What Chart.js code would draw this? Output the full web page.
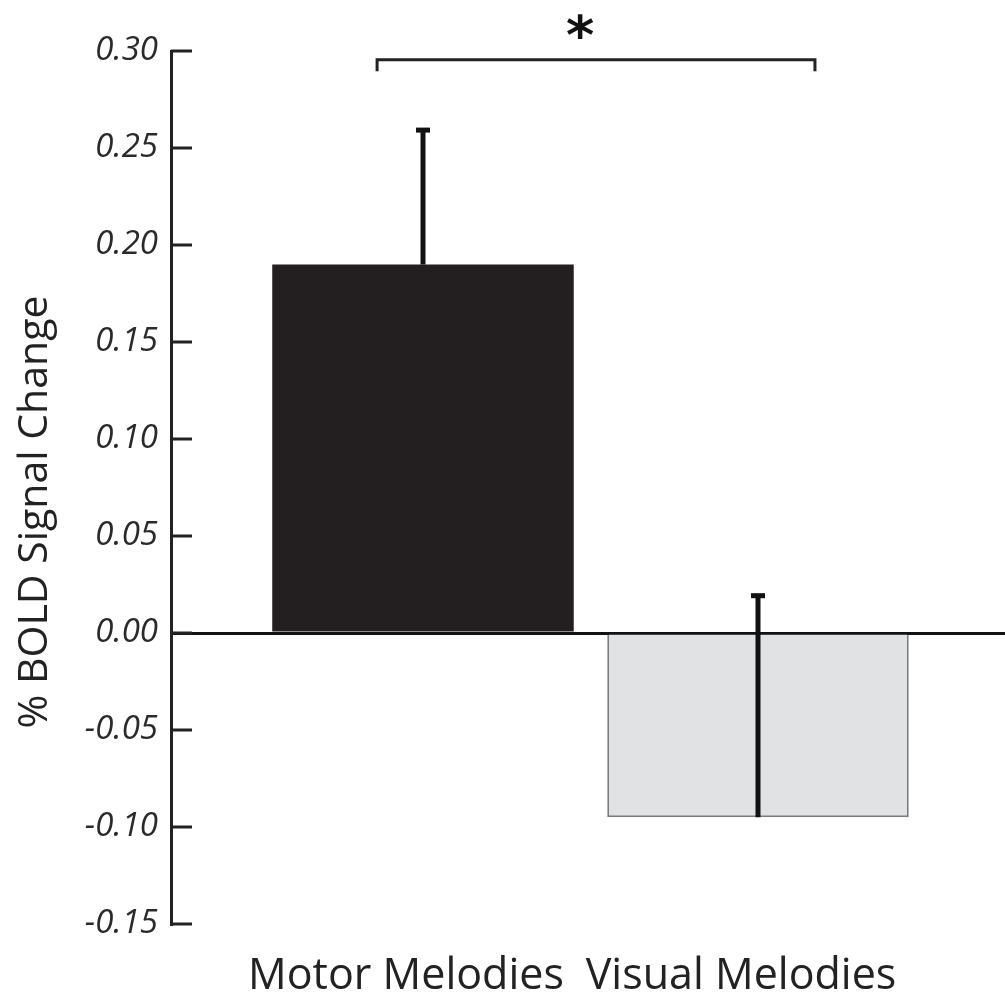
<!DOCTYPE html>
<html lang="en">
<head>
  <meta charset="UTF-8">
  <title>% BOLD Signal Change</title>
  <script src="https://cdn.jsdelivr.net/npm/chart.js"></script>
  <style>
    body {
      margin: 0;
      padding: 0;
      background-color: #ffffff;
    }
    #wrap {
      width: 1005px;
      height: 997px;
      position: relative;
    }
  </style>
</head>
<body>
  <div id="wrap">
    <canvas id="bold-chart"></canvas>
  </div>

  <script>
    // data
    const categories = ["Motor Melodies", "Visual Melodies"];
    const signalChange = [0.19, -0.095];
    const errorUp = [0.07, 0.115];
    const yTicks = [0.30, 0.25, 0.20, 0.15, 0.10, 0.05, 0.00, -0.05, -0.10, -0.15];
    const yTitle = "% BOLD Signal Change";
    const sigMark = "*";

    const INK = "#222222";

    // inward tick marks, error bars, significance bracket and y title
    const overlay = {
      id: "overlay",
      afterDatasetsDraw(chart) {
        const ctx = chart.ctx;
        const x = chart.scales.x;
        const y = chart.scales.y;
        const area = chart.chartArea;
        ctx.save();

        // tick marks pointing into the plot
        ctx.strokeStyle = INK;
        ctx.lineWidth = 3;
        yTicks.forEach(v => {
          const py = y.getPixelForValue(v);
          ctx.beginPath();
          ctx.moveTo(area.left, py);
          ctx.lineTo(area.left + 21, py);
          ctx.stroke();
        });

        // error bars (one side, drawn upward)
        const meta = chart.getDatasetMeta(0);
        meta.data.forEach((bar, i) => {
          const px = bar.x;
          const y0 = y.getPixelForValue(signalChange[i]);
          const y1 = y.getPixelForValue(signalChange[i] + errorUp[i]);
          ctx.strokeStyle = "#111";
          ctx.lineWidth = 5;
          ctx.beginPath();
          ctx.moveTo(px, y0);
          ctx.lineTo(px, y1);
          ctx.stroke();
          ctx.fillStyle = "#111";
          ctx.fillRect(px - 7, y1 - 1, 14, 5);
        });

        // significance bracket
        const bx0 = x.getPixelForValue(0.863);
        const bx1 = x.getPixelForValue(2.17);
        const by = y.getPixelForValue(0.2955);
        const byTip = y.getPixelForValue(0.2895);
        ctx.strokeStyle = INK;
        ctx.lineWidth = 3;
        ctx.beginPath();
        ctx.moveTo(bx0, byTip);
        ctx.lineTo(bx0, by);
        ctx.lineTo(bx1, by);
        ctx.lineTo(bx1, byTip);
        ctx.stroke();

        ctx.fillStyle = "#111";
        ctx.font = "bold 54px 'DejaVu Sans'";
        ctx.textAlign = "center";
        ctx.textBaseline = "alphabetic";
        ctx.fillText(sigMark, x.getPixelForValue(1.469), y.getPixelForValue(0.2985));

        // y axis title
        ctx.translate(35, 512);
        ctx.rotate(-Math.PI / 2);
        ctx.fillStyle = INK;
        ctx.font = "41px 'Open Sans'";
        ctx.textAlign = "center";
        ctx.textBaseline = "middle";
        ctx.fillText(yTitle, 0, 0);

        ctx.restore();
      }
    };

    const ctx = document.getElementById("bold-chart").getContext("2d");
    new Chart(ctx, {
      type: "bar",
      data: {
        datasets: [{
          data: signalChange.map((v, i) => ({ x: i + 1, y: v })),
          backgroundColor: ["#231f20", "#e1e2e4"],
          borderColor: ["#231f20", "#7d7d7d"],
          borderWidth: [0, 2],
          barPercentage: 0.9,
          categoryPercentage: 1.0
        }]
      },
      plugins: [overlay],
      options: {
        responsive: true,
        maintainAspectRatio: false,
        animation: false,
        layout: { padding: { top: 51, right: 0, bottom: 0, left: 0 } },
        plugins: {
          legend: { display: false },
          tooltip: { enabled: false }
        },
        scales: {
          x: {
            type: "linear",
            offset: false,
            min: 0.2478,
            max: 2.7373,
            afterBuildTicks: scale => {
              scale.ticks = categories.map((c, i) => ({ value: i + 1 }));
            },
            afterFit: scale => { scale.height = 73; },
            border: { display: false },
            grid: { display: false, offset: false },
            ticks: {
              padding: 19,
              labelOffset: -17,
              color: INK,
              font: { family: "'Open Sans'", size: 43 },
              callback: v => categories[Math.round(v) - 1]
            }
          },
          y: {
            min: -0.15,
            max: 0.30,
            z: 1,
            afterBuildTicks: scale => {
              scale.ticks = yTicks.map(v => ({ value: v }));
            },
            afterFit: scale => { scale.width = 171; },
            border: { display: true, color: INK, width: 3 },
            grid: {
              drawTicks: false,
              color: c => (Math.abs(c.tick.value) < 1e-9 ? "#111" : "rgba(0,0,0,0)"),
              lineWidth: 3
            },
            ticks: {
              padding: 13,
              color: "#2a2a2a",
              font: { family: "'Open Sans'", size: 33, style: "italic" },
              callback: v => v.toFixed(2)
            }
          }
        }
      }
    });
  </script>
</body>
</html>
